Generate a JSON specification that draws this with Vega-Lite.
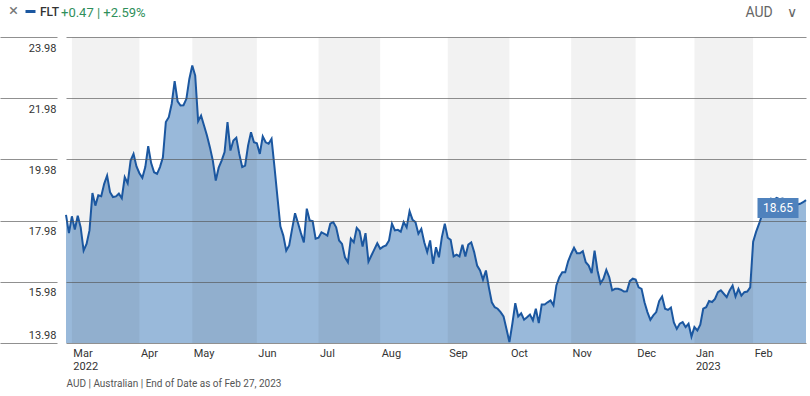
{
  "$schema": "https://vega.github.io/schema/vega-lite/v6.json",
  "width": 740,
  "height": 306,
  "autosize": {"type": "none"},
  "padding": {"left": 66, "top": 37, "right": 4, "bottom": 53},
  "background": "white",
  "config": {
    "view": {"stroke": null},
    "font": "Roboto, Liberation Sans, sans-serif"
  },
  "title": {
    "text": "+0.47 | +2.59%",
    "anchor": "start",
    "orient": "top",
    "frame": "group",
    "dx": -5,
    "offset": -15,
    "fontSize": 13,
    "fontWeight": "normal",
    "color": "#2f8f5b"
  },
  "datasets": {
    "price": [
      {"i":0,"v":18.17},{"i":1,"v":17.57},{"i":2,"v":18.12},{"i":3,"v":17.69},{"i":4,"v":18.14},{"i":5,"v":17.76},{"i":6,"v":17.00},{"i":7,"v":17.22},{"i":8,"v":17.66},{"i":9,"v":18.88},
      {"i":10,"v":18.47},{"i":11,"v":18.81},{"i":12,"v":18.78},{"i":13,"v":19.18},{"i":14,"v":19.45},{"i":15,"v":18.91},{"i":16,"v":18.75},{"i":17,"v":18.77},{"i":18,"v":18.86},{"i":19,"v":18.71},
      {"i":20,"v":19.40},{"i":21,"v":19.20},{"i":22,"v":19.94},{"i":23,"v":20.16},{"i":24,"v":19.75},{"i":25,"v":19.53},{"i":26,"v":19.38},{"i":27,"v":19.73},{"i":28,"v":20.41},{"i":29,"v":19.86},
      {"i":30,"v":19.56},{"i":31,"v":19.51},{"i":32,"v":19.73},{"i":33,"v":20.05},{"i":34,"v":21.20},{"i":35,"v":21.36},{"i":36,"v":21.80},{"i":37,"v":22.54},{"i":38,"v":21.88},{"i":39,"v":21.74},
      {"i":40,"v":21.75},{"i":41,"v":21.96},{"i":42,"v":22.61},{"i":43,"v":23.05},{"i":44,"v":22.72},{"i":45,"v":21.23},{"i":46,"v":21.41},{"i":47,"v":21.09},{"i":48,"v":20.76},{"i":49,"v":20.38},
      {"i":50,"v":19.94},{"i":51,"v":19.29},{"i":52,"v":19.71},{"i":53,"v":19.94},{"i":54,"v":20.22},{"i":55,"v":21.20},{"i":56,"v":20.27},{"i":57,"v":20.60},{"i":58,"v":20.69},{"i":59,"v":20.16},
      {"i":60,"v":19.73},{"i":61,"v":19.78},{"i":62,"v":20.43},{"i":63,"v":20.87},{"i":64,"v":20.54},{"i":65,"v":20.51},{"i":66,"v":20.16},{"i":67,"v":20.73},{"i":68,"v":20.54},{"i":69,"v":20.49},
      {"i":70,"v":20.65},{"i":71,"v":19.73},{"i":72,"v":18.75},{"i":73,"v":17.79},{"i":74,"v":17.49},{"i":75,"v":17.00},{"i":76,"v":17.17},{"i":77,"v":17.71},{"i":78,"v":18.22},{"i":79,"v":17.90},
      {"i":80,"v":17.57},{"i":81,"v":17.27},{"i":82,"v":18.37},{"i":83,"v":17.98},{"i":84,"v":17.96},{"i":85,"v":17.39},{"i":86,"v":17.42},{"i":87,"v":17.60},{"i":88,"v":17.55},{"i":89,"v":17.49},
      {"i":90,"v":17.88},{"i":91,"v":17.93},{"i":92,"v":17.76},{"i":93,"v":17.33},{"i":94,"v":17.22},{"i":95,"v":16.78},{"i":96,"v":16.62},{"i":97,"v":17.39},{"i":98,"v":17.27},{"i":99,"v":17.74},
      {"i":100,"v":17.63},{"i":101,"v":17.13},{"i":102,"v":17.57},{"i":103,"v":16.64},{"i":104,"v":16.84},{"i":105,"v":17.04},{"i":106,"v":17.24},{"i":107,"v":17.06},{"i":108,"v":17.13},{"i":109,"v":17.17},
      {"i":110,"v":17.33},{"i":111,"v":17.88},{"i":112,"v":17.66},{"i":113,"v":17.68},{"i":114,"v":17.62},{"i":115,"v":17.93},{"i":116,"v":17.76},{"i":117,"v":18.29},{"i":118,"v":18.01},{"i":119,"v":17.93},
      {"i":120,"v":17.55},{"i":121,"v":17.71},{"i":122,"v":17.27},{"i":123,"v":16.95},{"i":124,"v":17.33},{"i":125,"v":16.57},{"i":126,"v":17.11},{"i":127,"v":16.78},{"i":128,"v":17.44},{"i":129,"v":17.88},
      {"i":130,"v":17.42},{"i":131,"v":17.35},{"i":132,"v":16.81},{"i":133,"v":16.87},{"i":134,"v":16.81},{"i":135,"v":17.19},{"i":136,"v":16.81},{"i":137,"v":17.20},{"i":138,"v":17.27},{"i":139,"v":16.95},
      {"i":140,"v":16.51},{"i":141,"v":16.35},{"i":142,"v":16.05},{"i":143,"v":16.35},{"i":144,"v":15.80},{"i":145,"v":15.31},{"i":146,"v":15.15},{"i":147,"v":15.10},{"i":148,"v":14.99},{"i":149,"v":14.85},
      {"i":150,"v":14.44},{"i":151,"v":14.01},{"i":152,"v":14.61},{"i":153,"v":15.28},{"i":154,"v":14.85},{"i":155,"v":14.95},{"i":156,"v":14.74},{"i":157,"v":14.82},{"i":158,"v":14.91},{"i":159,"v":14.72},
      {"i":160,"v":15.10},{"i":161,"v":14.63},{"i":162,"v":15.24},{"i":163,"v":15.24},{"i":164,"v":15.31},{"i":165,"v":15.37},{"i":166,"v":15.21},{"i":167,"v":15.86},{"i":168,"v":16.13},{"i":169,"v":16.29},
      {"i":170,"v":16.29},{"i":171,"v":16.65},{"i":172,"v":16.89},{"i":173,"v":17.09},{"i":174,"v":16.91},{"i":175,"v":16.91},{"i":176,"v":16.98},{"i":177,"v":16.62},{"i":178,"v":16.51},{"i":179,"v":16.26},
      {"i":180,"v":17.00},{"i":181,"v":16.35},{"i":182,"v":15.93},{"i":183,"v":16.08},{"i":184,"v":16.37},{"i":185,"v":16.13},{"i":186,"v":15.70},{"i":187,"v":15.75},{"i":188,"v":15.75},{"i":189,"v":15.72},
      {"i":190,"v":15.66},{"i":191,"v":15.67},{"i":192,"v":16.00},{"i":193,"v":16.08},{"i":194,"v":16.05},{"i":195,"v":15.80},{"i":196,"v":15.75},{"i":197,"v":15.31},{"i":198,"v":14.99},{"i":199,"v":14.74},
      {"i":200,"v":14.88},{"i":201,"v":14.99},{"i":202,"v":15.35},{"i":203,"v":15.50},{"i":204,"v":15.10},{"i":205,"v":15.06},{"i":206,"v":15.14},{"i":207,"v":14.65},{"i":208,"v":14.44},{"i":209,"v":14.61},
      {"i":210,"v":14.66},{"i":211,"v":14.50},{"i":212,"v":14.61},{"i":213,"v":14.19},{"i":214,"v":14.50},{"i":215,"v":14.39},{"i":216,"v":14.58},{"i":217,"v":15.10},{"i":218,"v":15.15},{"i":219,"v":15.35},
      {"i":220,"v":15.32},{"i":221,"v":15.42},{"i":222,"v":15.64},{"i":223,"v":15.70},{"i":224,"v":15.59},{"i":225,"v":15.48},{"i":226,"v":15.70},{"i":227,"v":15.86},{"i":228,"v":15.50},{"i":229,"v":15.75},
      {"i":230,"v":15.53},{"i":231,"v":15.64},{"i":232,"v":15.66},{"i":233,"v":15.80},{"i":234,"v":17.29},{"i":235,"v":17.61},{"i":236,"v":17.87},{"i":237,"v":18.16},{"i":238,"v":18.39},{"i":239,"v":18.64},
      {"i":240,"v":18.70},{"i":241,"v":18.66},{"i":242,"v":18.72},{"i":243,"v":18.68},{"i":244,"v":18.70},{"i":245,"v":18.67},{"i":246,"v":18.64},{"i":247,"v":18.55},{"i":248,"v":18.52},{"i":249,"v":18.51},
      {"i":250,"v":18.53},{"i":251,"v":18.58},{"i":252,"v":18.65}
    ],
    "bands": [
      {"s":2,"e":25},{"s":43,"e":65},{"s":86,"e":107},{"s":130,"e":151},{"s":172,"e":194},{"s":214,"e":234}
    ],
    "last": [{"i":252,"v":18.65,"t":"18.65"}]
  },
  "layer": [
    {
      "data": {"name": "price"},
      "mark": {"type": "area", "color": "#99b9da", "opacity": 1},
      "encoding": {
        "x": {
          "field": "i", "type": "quantitative",
          "scale": {"domain": [0, 252], "nice": false, "zero": false},
          "axis": {
            "values": [2,25,43,65,86,107,130,151,172,194,214,234],
            "labelExpr": "datum.value == 2 ? ['Mar','2022'] : datum.value == 25 ? 'Apr' : datum.value == 43 ? 'May' : datum.value == 65 ? 'Jun' : datum.value == 86 ? 'Jul' : datum.value == 107 ? 'Aug' : datum.value == 130 ? 'Sep' : datum.value == 151 ? 'Oct' : datum.value == 172 ? 'Nov' : datum.value == 194 ? 'Dec' : datum.value == 214 ? ['Jan','2023'] : 'Feb'",
            "domain": false, "ticks": false, "grid": false,
            "labelAlign": "left", "labelBaseline": "top", "labelPadding": 4, "labelOffset": 1,
            "labelFontSize": 11, "labelColor": "#333", "labelLineHeight": 13,
            "labelFlush": false, "labelOverlap": false,
            "title": "AUD | Australian | End of Date as of Feb 27, 2023",
            "titleAnchor": "start", "titleAlign": "left", "titleX": 0, "titleY": 40,
            "titleBaseline": "middle", "titleColor": "#555", "titleFontSize": 10, "titleFontWeight": "normal"
          }
        },
        "y": {
          "field": "v", "type": "quantitative",
          "scale": {"domain": [13.98, 23.98], "nice": false, "zero": false},
          "axis": {
            "values": [13.98, 15.98, 17.98, 19.98, 21.98, 23.98],
            "format": ".2f",
            "orient": "left",
            "offset": 9,
            "domain": false,
            "ticks": true, "tickSize": 57, "tickColor": "#555", "tickOpacity": 0.65, "tickWidth": 1,
            "grid": true, "gridColor": "#555", "gridOpacity": 0.65, "gridWidth": 1,
            "labelAlign": "right",
            "labelPadding": -56,
            "labelBaseline": {"condition": {"test": "datum.value < 14", "value": "bottom"}, "value": "top"},
            "labelOffset": {"condition": {"test": "datum.value < 14", "value": -3}, "value": 5},
            "labelFontSize": 11, "labelColor": "#333",
            "title": "AUD\u2002\u2002∨",
            "titleAngle": 0, "titleX": 688, "titleY": -25, "titleAlign": "left", "titleBaseline": "middle",
            "titleColor": "#666", "titleFontSize": 14, "titleFontWeight": "normal",
            "zindex": 1
          }
        },
        "y2": {"datum": 13.98}
      }
    },
    {
      "data": {"name": "bands"},
      "mark": {"type": "rect", "color": "#000", "opacity": 0.05},
      "encoding": {
        "x": {"field": "s", "type": "quantitative"},
        "x2": {"field": "e"}
      }
    },
    {
      "data": {"name": "price"},
      "mark": {"type": "line", "strokeWidth": 2},
      "encoding": {
        "x": {"field": "i", "type": "quantitative"},
        "y": {"field": "v", "type": "quantitative"},
        "color": {
          "datum": "FLT",
          "scale": {"range": ["#1b57a0"]},
          "legend": {
            "orient": "none", "legendX": -57, "legendY": -32,
            "title": "×", "titleOrient": "left", "titleColor": "#777", "titleFontSize": 17, "titleFontWeight": "normal",
            "titlePadding": 5,
            "symbolType": "stroke", "symbolStrokeWidth": 3, "symbolSize": 100,
            "labelOffset": 3,
            "labelFontSize": 12, "labelColor": "#333", "labelFontWeight": 500
          }
        }
      }
    },
    {
      "data": {"name": "last"},
      "mark": {"type": "rect", "width": 41, "height": 20, "xOffset": -28, "yOffset": 8, "color": "#4f82bd"},
      "encoding": {
        "x": {"field": "i", "type": "quantitative"},
        "y": {"field": "v", "type": "quantitative"}
      }
    },
    {
      "data": {"name": "last"},
      "mark": {"type": "text", "color": "white", "fontSize": 12, "dx": -28, "dy": 8, "align": "center", "baseline": "middle"},
      "encoding": {
        "x": {"field": "i", "type": "quantitative"},
        "y": {"field": "v", "type": "quantitative"},
        "text": {"field": "t"}
      }
    }
  ]
}
